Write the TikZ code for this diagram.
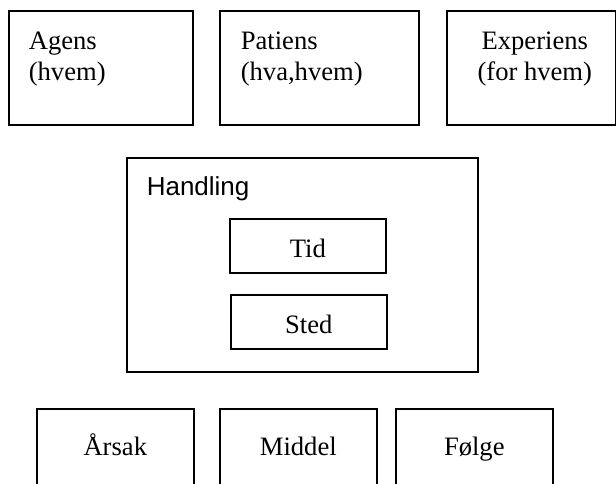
\documentclass[tikz,border=0pt]{standalone}
\usepackage{fontspec}
\setmainfont{Liberation Serif}
\newfontfamily\headfont{Liberation Sans}
\begin{document}
\begin{tikzpicture}[x=1pt, y=-1pt, line width=1.6pt,
		box/.style={draw, rectangle, inner sep=0pt, anchor=north west},
		txt/.style={font=\fontsize{26.6}{31}\selectfont, inner sep=0pt, align=left}]
	\useasboundingbox (0,0) rectangle (616,484);
	\clip (0,0) rectangle (616,484);
	% top row
	\node[box, minimum width=184pt, minimum height=114pt] (agens) at (8,10) {};
	\node[box, minimum width=199pt, minimum height=114pt] (patiens) at (219,10) {};
	\node[box, minimum width=169pt, minimum height=114pt] (experiens) at (446,10) {};
	\node[txt, anchor=base west] (agensT) at ([shift={(20,71)}]agens.north west) {Agens\\(hvem)};
	\node[txt, anchor=base west] (patiensT) at ([shift={(21,71)}]patiens.north west) {Patiens\\(hva,hvem)};
	\node[txt, anchor=base, align=center] (experiensT) at ([shift={(3.5,71)}]experiens.north) {Experiens\\(for hvem)};
	% handling
	\node[box, minimum width=351pt, minimum height=214pt] (handling) at (126,157) {};
	\node[txt, anchor=base west, font=\headfont\fontsize{26}{30}\selectfont] (handlingT) at ([shift={(20,38)}]handling.north west) {Handling};
	\node[box, minimum width=156pt, minimum height=54pt] (tid) at (229,218) {};
	\node[box, minimum width=156pt, minimum height=54pt] (sted) at (230,294) {};
	\node[txt, anchor=base] (tidT) at ([shift={(0,39)}]tid.north) {Tid};
	\node[txt, anchor=base] (stedT) at ([shift={(0,39)}]sted.north) {Sted};
	% bottom row
	\node[box, minimum width=157pt, minimum height=120pt] (arsak) at (36,408) {};
	\node[box, minimum width=157pt, minimum height=120pt] (middel) at (219,408) {};
	\node[box, minimum width=157pt, minimum height=120pt] (folge) at (395,408) {};
	\node[txt, anchor=base] (arsakT) at ([shift={(0,47)}]arsak.north) {Årsak};
	\node[txt, anchor=base] (middelT) at ([shift={(0,47)}]middel.north) {Middel};
	\node[txt, anchor=base] (folgeT) at ([shift={(0,47)}]folge.north) {Følge};
\end{tikzpicture}
\end{document}
